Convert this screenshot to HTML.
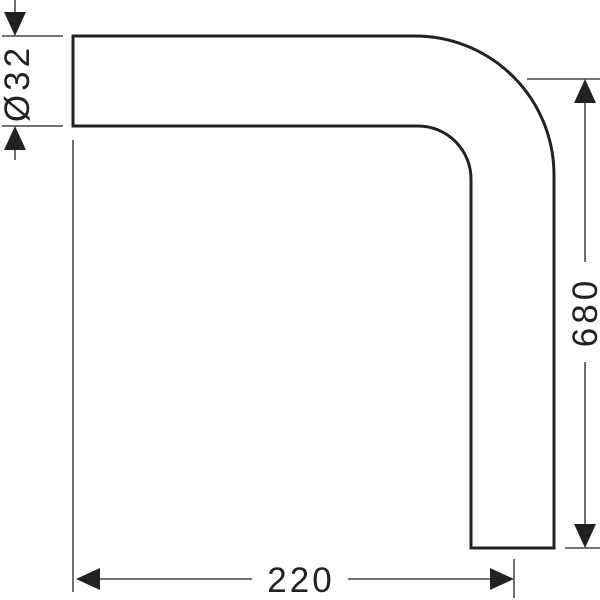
<!DOCTYPE html>
<html><head><style>body{margin:0;background:#fff}svg{display:block}</style></head><body>
<svg width="600" height="600" viewBox="0 0 600 600" xmlns="http://www.w3.org/2000/svg">
<g fill="none" stroke="#222" stroke-width="3">
<path d="M73 36 H415 A139 139 0 0 1 554 175 V548 H471 V179 A53 53 0 0 0 418 126 H73 Z"/>
</g>
<g stroke="#222" stroke-width="1.3" fill="none">
<line x1="2" y1="36" x2="63" y2="36"/>
<line x1="2" y1="126" x2="63" y2="126"/>
<line x1="15" y1="0" x2="15" y2="20"/>
<line x1="15" y1="140" x2="15" y2="160"/>
<line x1="527" y1="79" x2="600" y2="79"/>
<line x1="565" y1="548" x2="600" y2="548"/>
<line x1="585" y1="95" x2="585" y2="262"/>
<line x1="585" y1="362" x2="585" y2="532"/>
<line x1="73" y1="140" x2="73" y2="592"/>
<line x1="514" y1="559" x2="514" y2="598"/>
<line x1="92" y1="579" x2="252" y2="579"/>
<line x1="348" y1="579" x2="498" y2="579"/>
</g>
<g fill="#222">
<polygon points="15,36 4,12 26,12"/>
<polygon points="15,126 4,150 26,150"/>
<polygon points="585,79 574,103 596,103"/>
<polygon points="585,548 574,524 596,524"/>
<polygon points="76,579 100,568 100,590"/>
<polygon points="514,579 490,568 490,590"/>
</g>
<g font-family="Liberation Sans, sans-serif" font-size="35" fill="#222" text-anchor="middle">
<text x="301" y="592" letter-spacing="3">220</text>
<text transform="translate(597,312) rotate(-90)" letter-spacing="4">680</text>
<text transform="translate(29,83) rotate(-90)" letter-spacing="4">Ø32</text>
</g>
</svg>
</body></html>
